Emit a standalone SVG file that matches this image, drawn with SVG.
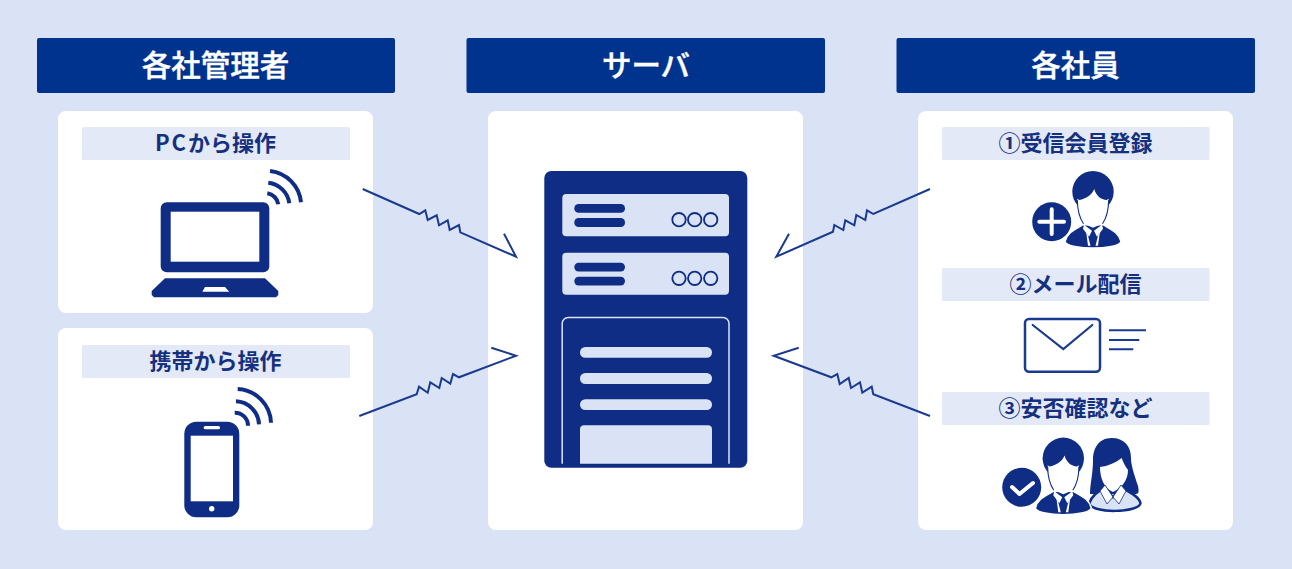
<svg xmlns="http://www.w3.org/2000/svg" xmlns:xlink="http://www.w3.org/1999/xlink" width="1292" height="569" viewBox="0 0 1292 569">
<style>
text{font-family:"Noto Sans CJK JP","Noto Sans",sans-serif;font-weight:700;text-anchor:middle}
.hb{fill:#00338d}
.ht{fill:#fff;font-size:29.500px;font-weight:500;stroke:#fff;stroke-width:.4}
.panel{fill:#fff}
.sb{fill:#e3e9f7}
.st{fill:#14307f;font-size:22px}
.ink{fill:#0f2d84}
.pale{fill:#d9e3f5}
.wave{fill:none;stroke:#0f2d84;stroke-width:4}
.conn{fill:none;stroke:#1a3a8f;stroke-width:2;stroke-linejoin:miter}
.o{fill:none;stroke:#0f2d84;stroke-width:1.800}
</style>
<defs>
<g id="man">
<circle class="ink" cx="0" cy="0" r="20.700"/>
<path class="ink" stroke="#fff" stroke-width="1.500" d="M-10 33C-16 37-26 40-28 50C-24 58.500 24 58.500 28 50C26 40 16 37 10 33Z"/>
<path d="M-15.700 7C-15.500 19-13 27-9.500 32L0 36 9.500 32C13 27 15.500 19 15.700 7L13.700 8.300C8 8 3 4 1.300-2.700C-1 3-7 7-13.700 8.300Z" fill="#fff"/>
<path d="M-15.700 8.300C-15.500 19-13 27-9.500 32M15.700 8.300C15.500 19 13 27 9.500 32" fill="none" stroke="#0f2d84" stroke-width="1.100"/>
<path d="M-9 33L-1 39-4 45-10 37ZM9 33L1 39 4 45 10 37Z" fill="#fff"/>
<path d="M-5 44L-2.500 54H-5L-7 39ZM5 44L2.500 54H5L7 39Z" fill="#fff"/>
</g>
</defs>
<rect id="background" width="1292" height="569" class="pale"/>

<g id="admin-header"><rect class="hb" x="37" y="38" width="358" height="55" rx="2"/><text class="ht" x="215.500" y="75.500">各社管理者</text></g>
<g id="server-header"><rect class="hb" x="466.500" y="38" width="358.500" height="55" rx="2"/><text class="ht" x="646" y="75.500">サーバ</text></g>
<g id="staff-header"><rect class="hb" x="896.500" y="38" width="358.500" height="55" rx="2"/><text class="ht" x="1075.500" y="75.500">各社員</text></g>

<g id="pc-node">
<rect class="panel" x="58" y="111" width="315" height="202" rx="8"/>
<rect class="sb" x="82" y="127" width="268" height="33" rx="1.500"/>
<text class="st" x="215.500" y="151"><tspan letter-spacing="2">PC</tspan>から操作</text>
<rect class="ink" x="160.700" y="202.300" width="108.600" height="70" rx="6"/>
<rect x="170.700" y="211.700" width="88.600" height="50" fill="#fff"/>
<path class="ink" d="M165 278.300H265L278.300 291V295L276 297.300H154L151.700 295V291Z"/>
<path d="M205 287H225L229.300 291.700H202.300Z" fill="#fff"/>
<path class="wave" d="M270 171A35 35 0 0 1 301 202.300M268.300 182.700A24 24 0 0 1 289.300 203.300M267.300 193.300A13 13 0 0 1 278.300 204.300"/>
</g>

<g id="mobile-node">
<rect class="panel" x="58" y="328" width="315" height="202" rx="8"/>
<rect class="sb" x="82" y="345" width="268" height="33" rx="1.500"/>
<text class="st" x="215.500" y="369">携帯から操作</text>
<rect class="ink" x="184.300" y="421.700" width="55" height="95.600" rx="12"/>
<rect x="190.700" y="435.700" width="42.300" height="65.600" fill="#fff"/>
<rect x="203.700" y="426" width="16.300" height="3.300" rx="1.600" fill="#fff"/>
<circle cx="211.700" cy="508.700" r="2.700" fill="#fff"/>
<path class="wave" d="M237.700 389A35 35 0 0 1 271 422.700M236 401.300A24 24 0 0 1 259 424.300M234.700 412.700A13 13 0 0 1 248 425.700"/>
</g>

<g id="server-node">
<rect class="panel" x="488" y="111" width="315" height="419" rx="8"/>
<rect class="ink" x="544.300" y="171" width="203" height="296.700" rx="7"/>
<rect class="pale" x="562.300" y="194" width="166.700" height="42.300" rx="4"/>
<rect class="ink" x="574.300" y="204" width="50.700" height="8.700" rx="4.300"/>
<rect class="ink" x="574.300" y="218" width="50.700" height="9" rx="4.300"/>
<circle class="o" cx="679" cy="219.700" r="6.700"/><circle class="o" cx="694.700" cy="219.700" r="6.700"/><circle class="o" cx="710.700" cy="219.700" r="6.700"/>
<rect class="pale" x="562.300" y="252.700" width="166.700" height="42" rx="4"/>
<rect class="ink" x="574.300" y="262.700" width="50.700" height="8.700" rx="4.300"/>
<rect class="ink" x="574.300" y="276.700" width="50.700" height="8.700" rx="4.300"/>
<circle class="o" cx="679" cy="278.300" r="6.700"/><circle class="o" cx="694.700" cy="278.300" r="6.700"/><circle class="o" cx="710.700" cy="278.300" r="6.700"/>
<path d="M562.200 463.700V323.500A6 6 0 0 1 568.200 317.500H723A6 6 0 0 1 729 323.500V463.700" fill="none" stroke="#d9e3f5" stroke-width="1.500"/>
<rect class="pale" x="580" y="347" width="132" height="10.700" rx="5.300"/>
<rect class="pale" x="580" y="373" width="132" height="11" rx="5.300"/>
<rect class="pale" x="580" y="399.300" width="132" height="10.700" rx="5.300"/>
<path class="pale" d="M580 463.700V429A4 4 0 0 1 584 425.300H708A4 4 0 0 1 712 429V463.700Z"/>
</g>

<g id="staff-node">
<rect class="panel" x="918" y="111" width="315" height="419" rx="8"/>
<rect class="sb" x="942" y="127" width="267.500" height="33" rx="1.500"/>
<text class="st" x="1075.500" y="151">①受信会員登録</text>
<circle class="ink" cx="1051.700" cy="221.700" r="19.500"/>
<path d="M1039.300 221.700H1064M1051.700 209.300V234" stroke="#fff" stroke-width="4" stroke-linecap="round" fill="none"/>
<use xlink:href="#man" href="#man" x="1093" y="191.700"/>

<rect class="sb" x="942" y="268" width="267.500" height="33" rx="1.500"/>
<text class="st" x="1075.500" y="292">②メール配信</text>
<rect x="1025" y="319" width="75" height="52.700" rx="4" fill="none" stroke="#1a3a8f" stroke-width="2.500"/>
<path d="M1032.700 325L1063.300 349 1092.300 325" fill="none" stroke="#1a3a8f" stroke-width="2.200" stroke-linecap="round"/>
<path d="M1109 330.300H1146M1109 340H1139.300M1109 349.300H1133.300" fill="none" stroke="#1a3a8f" stroke-width="2"/>

<rect class="sb" x="942" y="392" width="267.500" height="33" rx="1.500"/>
<text class="st" x="1075.500" y="416">③安否確認など</text>
<circle class="ink" cx="1021.700" cy="487.300" r="19.500"/>
<path d="M1012 487L1019.500 494 1033 483" fill="none" stroke="#fff" stroke-width="4" stroke-linecap="round" stroke-linejoin="round"/>
<path class="ink" d="M1111.700 438C1098 438 1093 449 1093 460C1093 474 1090 484 1090 494L1136 494C1139 494 1139 491 1138 486C1134 474 1131 465 1131 458C1131 446 1124 438 1111.700 438Z"/>
<path d="M1121.700 458C1115 463 1108 466 1100 467C1100 478 1104 488 1113 492C1122 488 1128 480 1128 470C1125 466 1123 462 1121.700 458Z" fill="#fff"/>
<path d="M1089.500 503C1092 495 1098 491 1105 488L1113 497 1121 488C1129 491 1139 497 1140.500 503C1140 513 1090 514 1089.500 503Z" fill="#d9e3f5" stroke="#0f2d84" stroke-width="2.500"/>
<path d="M1105 485L1113 497 1107 504 1100 491ZM1121 485L1113 497 1119 504 1126 491Z" fill="#fff" stroke="#0f2d84" stroke-width=".8"/>
<use xlink:href="#man" href="#man" x="1063.300" y="458.300"/>
</g>

<g id="connectors">
<path class="conn" d="M362.700 189L419.300 214 425.300 210.300 427.700 220 436.700 215.300 439 225.300 447.700 220.300 449.700 230 459 225 460.300 232.300 516 256.700 504 233.700"/>
<path class="conn" d="M359.300 416L416.700 394.300 419 386.700 427.700 392.700 430.300 382.300 439.300 388 441.700 378 450.300 383.700 453 374 459 377.300 516 355.700 491.300 347.700"/>
<path class="conn" d="M930 189L873.300 214 867 210.300 865.300 220 856.300 215 854.300 225.300 845.300 220.300 843.300 230 834.300 225 833 231.700 776.300 256.700 789 233.700"/>
<path class="conn" d="M930 416L873.300 394.300 871.700 386.700 862.300 392.700 860 382.300 851 388 848.700 378 839.700 384 837.300 374 831.300 377.300 773.700 355.700 798.700 347.700"/>
</g>
</svg>
